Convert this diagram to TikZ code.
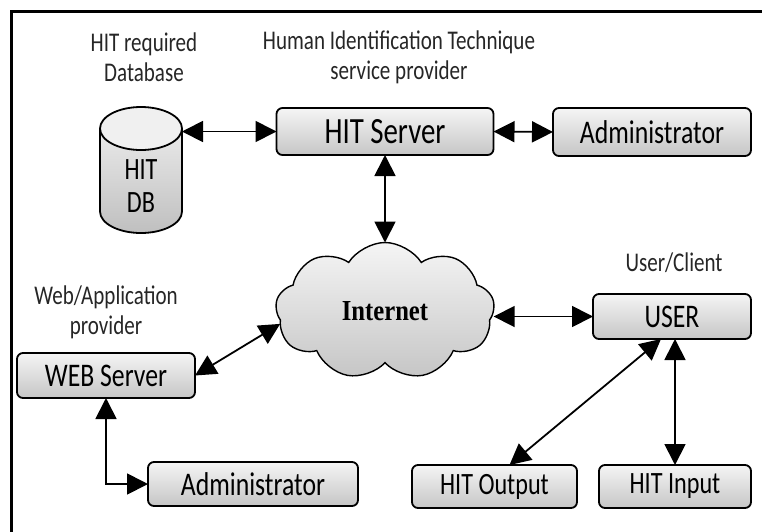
\documentclass[tikz,border=0pt]{standalone}
\usepackage{fontspec}
\usepackage{graphicx}
\newfontfamily\calfont{Carlito}
\newfontfamily\serfont{Liberation Serif}
\usetikzlibrary{arrows.meta,shapes.symbols}
\newcommand{\nar}[1]{\scalebox{0.78}[1]{#1}}

\begin{document}
\begin{tikzpicture}[x=1pt,y=-1pt,
      every node/.style={font=\calfont, inner sep=0pt, outer sep=0pt},
      hitbox/.style={draw, line width=1.8pt, rounded corners=6pt,
        top color=gray!8, bottom color=gray!45, minimum height=45pt},
      boxtxt/.style={font=\calfont\fontsize{33}{36}\selectfont},
      lbl/.style={align=center, text=black!85, font=\calfont\fontsize{27}{30}\selectfont},
      link/.style={line width=1.8pt,
        {Triangle[length=21pt,width=21pt]}-{Triangle[length=21pt,width=21pt]}}]
    \useasboundingbox (0,0) rectangle (762,531);
    \clip (0,0) rectangle (762,531);
    \draw[line width=3pt] (11,11) rectangle (900,700);

    % labels
    \node[lbl] (lbldb) at (144,57) {\nar{HIT required}\\\nar{Database}};
    \node[lbl] (lblsrv) at (399,57) {\nar{Human Identification Technique}\\\nar{service provider}};
    \node[lbl] (lblweb) at (106,312) {\nar{Web/Application}\\\nar{provider}};
    \node[lbl] (lblusr) at (674,263) {\nar{User/Client}};

    % database
    \path[top color=gray!10, bottom color=gray!50] (100,128.5) -- (100,211.5)
      arc[start angle=180, end angle=360, x radius=41pt, y radius=21.5pt]
      -- (182,128.5) arc[start angle=0, end angle=180, x radius=41pt, y radius=21.5pt] -- cycle;
    \draw[line width=1.8pt, fill=gray!12] (141,128.5) ellipse[x radius=41pt, y radius=21.5pt];
    \draw[line width=1.8pt] (100,128.5) -- (100,211.5)
      arc[start angle=180, end angle=360, x radius=41pt, y radius=21.5pt] -- (182,128.5);
    \node[minimum width=82pt, minimum height=104.5pt] (db) at (141,180.75) {};
    \node[align=center, font=\calfont\fontsize{31}{33}\selectfont] (dbtxt) at (141,186) {\nar{HIT}\\\nar{DB}};

    % boxes
    \node[hitbox, minimum width=217pt, minimum height=47pt,
      font=\calfont\fontsize{37}{40}\selectfont] (hitsrv) at (385,131.5) {\nar{HIT Server}};
    \node[hitbox, boxtxt, minimum width=198pt, minimum height=48pt] (admt) at (652,132) {\nar{Administrator}};
    \node[hitbox, boxtxt, minimum width=158pt] (user) at (672,316.5) {\nar{USER}};
    \node[hitbox, boxtxt, minimum width=178pt] (web) at (106,375.5) {\nar{WEB Server}};
    \node[hitbox, boxtxt, minimum width=210pt, minimum height=44pt] (admb) at (253,484) {\nar{Administrator}};
    \node[hitbox, minimum width=165pt, minimum height=43pt,
      font=\calfont\fontsize{31}{34}\selectfont] (hitout) at (494.5,486.5) {\nar{HIT Output}};
    \node[hitbox, minimum width=152pt, minimum height=43pt,
      font=\calfont\fontsize{31}{34}\selectfont] (hitin) at (675,486.5) {\nar{HIT Input}};

    % internet
    \node[cloud, cloud puffs=9, cloud puff arc=115, aspect=1.6, draw, line width=1.4pt,
      minimum width=219pt, minimum height=137pt, top color=gray!8, bottom color=gray!45,
      font=\serfont\bfseries\fontsize{29}{32}\selectfont] (net) at (385,311)
      {\scalebox{0.85}[1]{Internet}};

    % connectors
    \draw[link] (db.east |- hitsrv.west) -- (hitsrv.west);
    \draw[link] (hitsrv.east) -- (admt.west);
    \draw[link] (hitsrv.south) -- (net.north);
    \draw[link] (web.east) -- (net.187);
    \draw[link] (net.east |- user.west) -- (user.west);
    \draw[link] ([xshift=-11pt]user.south) -- ([xshift=15pt]hitout.north);
    \draw[link] (hitin.north |- user.south) -- (hitin.north);
    \draw[link] (web.south) |- (admb.west);
  \end{tikzpicture}
\end{document}
